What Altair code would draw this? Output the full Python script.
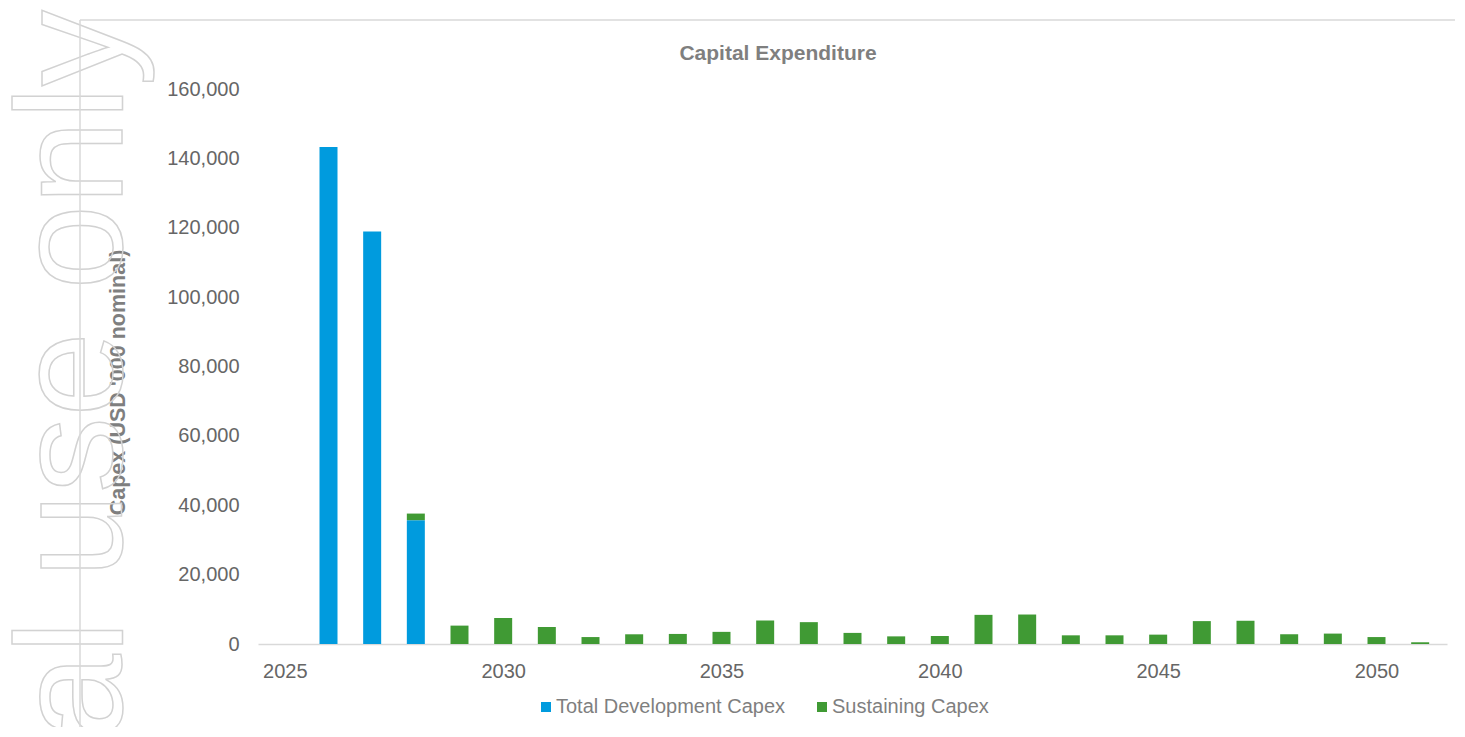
import altair as alt
import pandas as pd

# ---- data ----
years = list(range(2026, 2052))
dev_capex = [143300, 118900, 35700] + [0] * 23
sust_capex = [0, 0, 1900, 5300, 7500, 4900, 2000, 2800, 2900, 3500, 6800,
              6300, 3200, 2200, 2300, 8400, 8500, 2500, 2500, 2700, 6600,
              6700, 2800, 3000, 2000, 500]
series_names = ["Total Development Capex", "Sustaining Capex"]
series_colors = ["#009BDE", "#409A34"]
x_tick_years = [2025, 2030, 2035, 2040, 2045, 2050]
y_ticks = [0, 20000, 40000, 60000, 80000, 100000, 120000, 140000, 160000]

rows = []
for i, yr in enumerate(years):
    for k, vals in enumerate([dev_capex, sust_capex]):
        if vals[i] > 0:
            rows.append({"year": yr, "series": series_names[k], "value": vals[i], "ord": k})
df = pd.DataFrame(rows)

FONT = "Liberation Sans"
LABEL = "#666666"
TITLE = "#7F7F7F"
W, H = 1189, 555

bars = alt.Chart(df).mark_bar(width=18).encode(
    x=alt.X("year:Q",
            scale=alt.Scale(domain=[2024.5, 2051.5], nice=False, zero=False),
            axis=alt.Axis(values=x_tick_years, format="d", title=None, grid=False,
                          ticks=False, domainColor="#d9d9d9", domainWidth=1.5,
                          labelFont=FONT, labelFontSize=20, labelColor=LABEL,
                          labelBaseline="alphabetic", labelPadding=33)),
    y=alt.Y("value:Q", stack="zero",
            scale=alt.Scale(domain=[0, 160000], nice=False),
            axis=alt.Axis(values=y_ticks, format=",d", grid=False, ticks=False,
                          domain=False, labelFont=FONT, labelFontSize=20,
                          labelColor=LABEL, labelPadding=19,
                          title="Capex (USD '000 nominal)", titleFont=FONT,
                          titleFontSize=21.5, titleFontWeight="bold", titleColor=TITLE,
                          titleAngle=270, titleAlign="center", titleBaseline="alphabetic",
                          titleX=-134, titleY=293)),
    color=alt.Color("series:N",
                    scale=alt.Scale(domain=series_names, range=series_colors),
                    legend=alt.Legend(orient="none", legendX=278, legendY=608,
                                      direction="horizontal", title=None,
                                      symbolType="square", symbolSize=100,
                                      symbolStrokeWidth=0, labelFont=FONT,
                                      labelFontSize=20, labelColor=TITLE,
                                      labelLimit=0, labelOffset=0,
                                      columnPadding=26, padding=0)),
    order=alt.Order("ord:Q", sort="ascending"),
)

one = pd.DataFrame({"a": [0]})

frame_top = alt.Chart(one).mark_rule(color="#d9d9d9", strokeWidth=1.5).encode(
    x=alt.value(-178), x2=alt.value(1207), y=alt.value(-69))
frame_left = alt.Chart(one).mark_rule(color="#d9d9d9", strokeWidth=1.5).encode(
    x=alt.value(-178), y=alt.value(-69), y2=alt.value(650))

watermark = alt.Chart(pd.DataFrame({"t": ["al use only"]})).mark_text(
    angle=270, align="left", baseline="alphabetic", font=FONT, fontSize=152.5,
    fill="white", fillOpacity=0, stroke="#d2d2d2", strokeWidth=1.5,
).encode(text="t:N", x=alt.value(-136), y=alt.value(650))

title = alt.Chart(pd.DataFrame({"t": ["Capital Expenditure"]})).mark_text(
    align="center", baseline="alphabetic", font=FONT, fontSize=21,
    fontWeight="bold", color=TITLE,
).encode(text="t:N", x=alt.value(520), y=alt.value(-29))

chart = alt.layer(watermark, frame_top, frame_left, bars, title).properties(
    width=W, height=H,
    autosize=alt.AutoSizeParams(type="none"),
    padding={"left": 250, "top": 81, "right": 8, "bottom": 83},
    background="white",
).configure_view(stroke=None)

chart.save("out.html", embed_options={"renderer": "svg", "actions": False})
